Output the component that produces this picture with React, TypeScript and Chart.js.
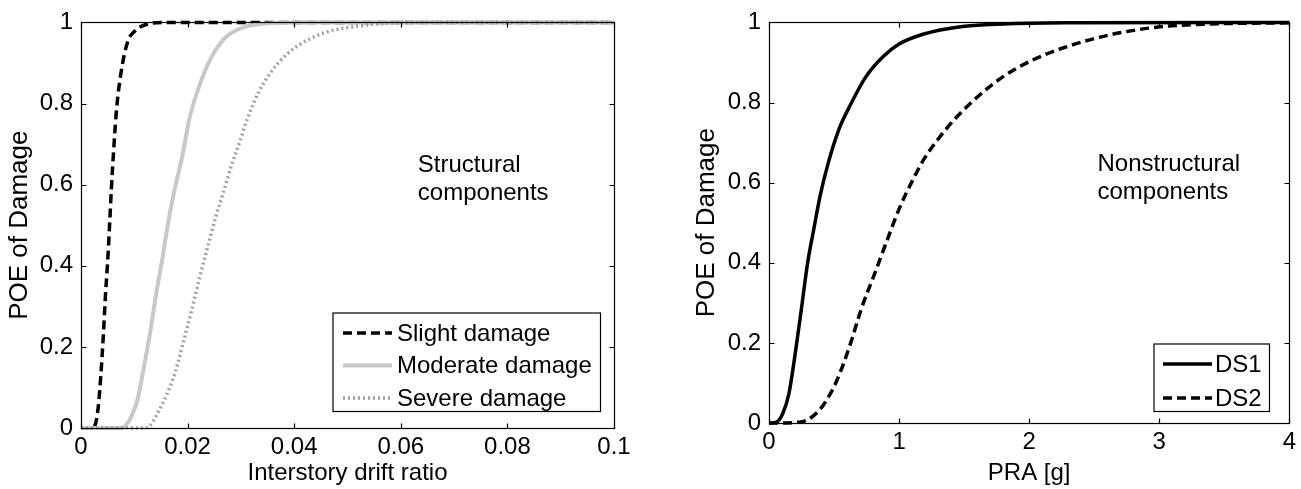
import React, { useEffect, useRef } from "react";
import { Chart, registerables } from "chart.js";

Chart.register(...registerables);

const FONT = "'Liberation Sans', Arial, Helvetica, sans-serif";

// ---------- Left panel: structural components ----------
const driftTicks = [0, 0.02, 0.04, 0.06, 0.08, 0.1];
const driftTickLabels = ["0", "0.02", "0.04", "0.06", "0.08", "0.1"];
const poeTicks = [0, 0.2, 0.4, 0.6, 0.8, 1];
const poeTickLabels = ["0", "0.2", "0.4", "0.6", "0.8", "1"];

const slightX = [0, 0.0022, 0.0028, 0.0033, 0.0037, 0.0042, 0.0046, 0.005, 0.0054, 0.0057, 0.0062, 0.0067, 0.0075, 0.0087, 0.0102, 0.0125, 0.0155, 0.1];
const slightY = [0, 0, 0.014, 0.06, 0.126, 0.23, 0.33, 0.41, 0.51, 0.59, 0.7, 0.79, 0.875, 0.95, 0.98, 0.996, 1, 1];

const moderateX = [0, 0.0075, 0.0083, 0.0095, 0.0106, 0.0118, 0.0129, 0.0141, 0.0153, 0.0164, 0.0176, 0.019, 0.0203, 0.0221, 0.0245, 0.0272, 0.031, 0.0355, 0.043, 0.1];
const moderateY = [0, 0, 0.005, 0.03, 0.07, 0.15, 0.23, 0.33, 0.42, 0.51, 0.59, 0.67, 0.76, 0.84, 0.915, 0.964, 0.99, 0.998, 1, 1];

const severeX = [0, 0.012, 0.0129, 0.0145, 0.016, 0.0176, 0.0191, 0.0207, 0.0222, 0.0238, 0.0253, 0.0268, 0.0283, 0.0298, 0.0312, 0.0333, 0.0355, 0.0385, 0.0423, 0.046, 0.0515, 0.0575, 0.065, 0.1];
const severeY = [0, 0, 0.005, 0.04, 0.08, 0.134, 0.207, 0.287, 0.368, 0.448, 0.521, 0.585, 0.65, 0.706, 0.762, 0.827, 0.875, 0.92, 0.955, 0.976, 0.99, 0.998, 1, 1];

const leftSeriesNames = ["Slight damage", "Moderate damage", "Severe damage"];
const leftNoteLines = ["Structural", "components"];
const leftNotePos = [0.0632, 0.63];

// ---------- Right panel: nonstructural components ----------
const praTicks = [0, 1, 2, 3, 4];
const praTickLabels = ["0", "1", "2", "3", "4"];

const ds1X = [0, 0.057, 0.105, 0.153, 0.2, 0.25, 0.297, 0.345, 0.393, 0.456, 0.536, 0.632, 0.744, 0.872, 1.0, 1.19, 1.446, 1.8, 2.28, 4];
const ds1Y = [0, 0.002, 0.023, 0.073, 0.17, 0.287, 0.4, 0.485, 0.567, 0.65, 0.732, 0.798, 0.864, 0.913, 0.946, 0.971, 0.988, 0.996, 0.999, 1];

const ds2X = [0, 0.233, 0.33, 0.425, 0.52, 0.616, 0.712, 0.808, 0.903, 1.0, 1.095, 1.19, 1.318, 1.446, 1.606, 1.797, 2.02, 2.276, 2.595, 2.978, 3.39, 4];
const ds2Y = [0, 0.002, 0.015, 0.048, 0.105, 0.188, 0.287, 0.369, 0.452, 0.534, 0.6, 0.658, 0.716, 0.765, 0.815, 0.864, 0.905, 0.938, 0.967, 0.988, 0.996, 0.999];

const rightSeriesNames = ["DS1", "DS2"];
const rightNoteLines = ["Nonstructural", "components"];
const rightNotePos = [2.525, 0.628];

const pts = (xs: number[], ys: number[]) => xs.map((x, i) => ({ x, y: ys[i] }));

// ---------- plugins ----------
const framePlugin = {
  id: "matlabFrame",
  afterDatasetsDraw(chart: any) {
    const { ctx, chartArea: a, scales } = chart;
    const xs = scales.x;
    const ys = scales.y;
    const L = 5;
    ctx.save();
    ctx.setLineDash([]);
    ctx.strokeStyle = "#000";
    ctx.lineWidth = 1.2;
    const l = Math.round(a.left) + 0.5;
    const r = Math.round(a.right) + 0.5;
    const t = Math.round(a.top) + 0.5;
    const b = Math.round(a.bottom) + 0.5;
    ctx.strokeRect(l, t, r - l, b - t);
    ctx.beginPath();
    xs.ticks.forEach((tk: any) => {
      const px = Math.round(xs.getPixelForValue(tk.value)) + 0.5;
      ctx.moveTo(px, b);
      ctx.lineTo(px, b - L);
      ctx.moveTo(px, t);
      ctx.lineTo(px, t + L);
    });
    ys.ticks.forEach((tk: any) => {
      const py = Math.round(ys.getPixelForValue(tk.value)) + 0.5;
      ctx.moveTo(l, py);
      ctx.lineTo(l + L, py);
      ctx.moveTo(r, py);
      ctx.lineTo(r - L, py);
    });
    ctx.stroke();
    ctx.restore();
  },
};

const boxLegendPlugin = {
  id: "boxLegend",
  afterDraw(chart: any, _args: any, o: any) {
    const { ctx, chartArea: a } = chart;
    const ds = chart.data.datasets;
    ctx.save();
    ctx.font = `${o.fontSize}px ${FONT}`;
    const textW = Math.max(...ds.map((d: any) => ctx.measureText(d.label).width));
    const w = o.padL + o.sample + o.gap + textW + o.padR;
    const h = o.padT + o.rowH * (ds.length - 1) + o.padB;
    const right = Math.round(a.right - o.right) + 0.5;
    const bottom = Math.round(a.bottom - o.bottom) + 0.5;
    const left = Math.round(right - w);
    const top = Math.round(bottom - h);
    ctx.fillStyle = "#fff";
    ctx.fillRect(left, top, right - left, bottom - top);
    ctx.setLineDash([]);
    ctx.strokeStyle = "#000";
    ctx.lineWidth = 1.2;
    ctx.strokeRect(left, top, right - left, bottom - top);
    ds.forEach((d: any, i: number) => {
      const cy = top + o.padT + i * o.rowH;
      ctx.save();
      ctx.strokeStyle = d.borderColor;
      ctx.lineWidth = d.borderWidth;
      ctx.setLineDash(d.borderDash || []);
      ctx.beginPath();
      ctx.moveTo(left + o.padL, cy);
      ctx.lineTo(left + o.padL + o.sample, cy);
      ctx.stroke();
      ctx.restore();
      ctx.fillStyle = "#000";
      ctx.textBaseline = "middle";
      ctx.textAlign = "left";
      ctx.fillText(d.label, left + o.padL + o.sample + o.gap, cy + 1);
    });
    ctx.restore();
  },
};

const notePlugin = {
  id: "note",
  afterDraw(chart: any, _args: any, o: any) {
    const { ctx, scales } = chart;
    const x = scales.x.getPixelForValue(o.pos[0]);
    const y = scales.y.getPixelForValue(o.pos[1]);
    ctx.save();
    ctx.font = `${o.fontSize}px ${FONT}`;
    ctx.fillStyle = "#000";
    ctx.textAlign = "left";
    ctx.textBaseline = "alphabetic";
    o.lines.forEach((ln: string, i: number) => ctx.fillText(ln, x, y + i * o.lineH));
    ctx.restore();
  },
};

function makeConfig(p: any) {
  return {
    type: "line",
    data: { datasets: p.datasets },
    plugins: [framePlugin, boxLegendPlugin, notePlugin],
    options: {
      animation: false,
      responsive: false,
      devicePixelRatio: 1,
      events: [],
      layout: { padding: p.padding },
      elements: { point: { radius: 0 }, line: { cubicInterpolationMode: "monotone" } },
      plugins: {
        legend: { display: false },
        tooltip: { enabled: false },
        boxLegend: p.legend,
        note: p.note,
      },
      scales: {
        x: {
          type: "linear",
          min: p.xTicks[0],
          max: p.xTicks[p.xTicks.length - 1],
          afterBuildTicks: (s: any) => {
            s.ticks = p.xTicks.map((v: number) => ({ value: v }));
          },
          afterFit: (s: any) => {
            s.height = p.xAxisH;
          },
          grid: { display: false, drawTicks: false },
          border: { display: false },
          ticks: {
            autoSkip: false,
            maxRotation: 0,
            padding: p.xTickPad,
            color: "#000",
            font: { family: FONT, size: 24, lineHeight: 1.2 },
            callback: (_v: any, i: number) => p.xLabels[i],
          },
          title: {
            display: true,
            text: p.xTitle,
            color: "#000",
            font: { family: FONT, size: 24, lineHeight: 1.2 },
            padding: { top: 0, bottom: p.xTitlePad },
          },
        },
        y: {
          type: "linear",
          min: 0,
          max: 1,
          afterBuildTicks: (s: any) => {
            s.ticks = poeTicks.map((v: number) => ({ value: v }));
          },
          afterFit: (s: any) => {
            s.width = p.yAxisW;
          },
          grid: { display: false, drawTicks: false },
          border: { display: false },
          ticks: {
            autoSkip: false,
            padding: 8,
            color: "#000",
            font: { family: FONT, size: 24, lineHeight: 1.2 },
            callback: (_v: any, i: number) => poeTickLabels[i],
          },
          title: {
            display: true,
            text: "POE of Damage",
            color: "#000",
            font: { family: FONT, size: 26, lineHeight: 1.2 },
            padding: { top: p.yTitlePad, bottom: 0 },
          },
        },
      },
    },
  };
}

const leftConfig = () =>
  makeConfig({
    padding: { left: 0, right: 36, top: 15, bottom: 0 },
    xAxisH: 61,
    yAxisW: 81,
    xTickPad: 5,
    xTitlePad: 1,
    yTitlePad: 4,
    xTicks: driftTicks,
    xLabels: driftTickLabels,
    xTitle: "Interstory drift ratio",
    legend: { fontSize: 24, right: 14, bottom: 17, padT: 20, rowH: 32.5, padB: 14, padL: 10, sample: 49, gap: 5, padR: 9 },
    note: { pos: leftNotePos, lines: leftNoteLines, fontSize: 24, lineH: 28 },
    datasets: [
      { label: leftSeriesNames[0], data: pts(slightX, slightY), borderColor: "#000000", borderWidth: 3.5, borderDash: [9, 5], order: 3, clip: false },
      { label: leftSeriesNames[1], data: pts(moderateX, moderateY), borderColor: "#c8c8c8", borderWidth: 4, order: 2, clip: false },
      { label: leftSeriesNames[2], data: pts(severeX, severeY), borderColor: "#a0a0a0", borderWidth: 3.5, borderDash: [2, 3], order: 1, clip: false },
    ],
  });

const rightConfig = () =>
  makeConfig({
    padding: { left: 0, right: 10, top: 18, bottom: 0 },
    xAxisH: 66,
    yAxisW: 119,
    xTickPad: 5,
    xTitlePad: 1,
    yTitlePad: 41,
    xTicks: praTicks,
    xLabels: praTickLabels,
    xTitle: "PRA [g]",
    legend: { fontSize: 24, right: 20, bottom: 12, padT: 20, rowH: 34, padB: 14, padL: 9, sample: 49, gap: 3, padR: 8 },
    note: { pos: rightNotePos, lines: rightNoteLines, fontSize: 24, lineH: 28 },
    datasets: [
      { label: rightSeriesNames[0], data: pts(ds1X, ds1Y), borderColor: "#000000", borderWidth: 3.5, order: 2, clip: false },
      { label: rightSeriesNames[1], data: pts(ds2X, ds2Y), borderColor: "#000000", borderWidth: 3.5, borderDash: [9, 5], order: 1, clip: false },
    ],
  });

function Panel({ left, width, config }: { left: number; width: number; config: () => any }) {
  const ref = useRef<HTMLCanvasElement | null>(null);
  useEffect(() => {
    if (!ref.current) return;
    const chart = new Chart(ref.current, config());
    return () => chart.destroy();
  }, []);
  return (
    <div style={{ position: "absolute", left, top: 0, width, height: 489 }}>
      <canvas ref={ref} width={width} height={489} style={{ width, height: 489, display: "block" }} />
    </div>
  );
}

export default function App() {
  return (
    <div style={{ position: "fixed", left: 0, top: 0, width: 1301, height: 489, background: "#fff" }}>
      <Panel left={0} width={650} config={leftConfig} />
      <Panel left={650} width={651} config={rightConfig} />
    </div>
  );
}
